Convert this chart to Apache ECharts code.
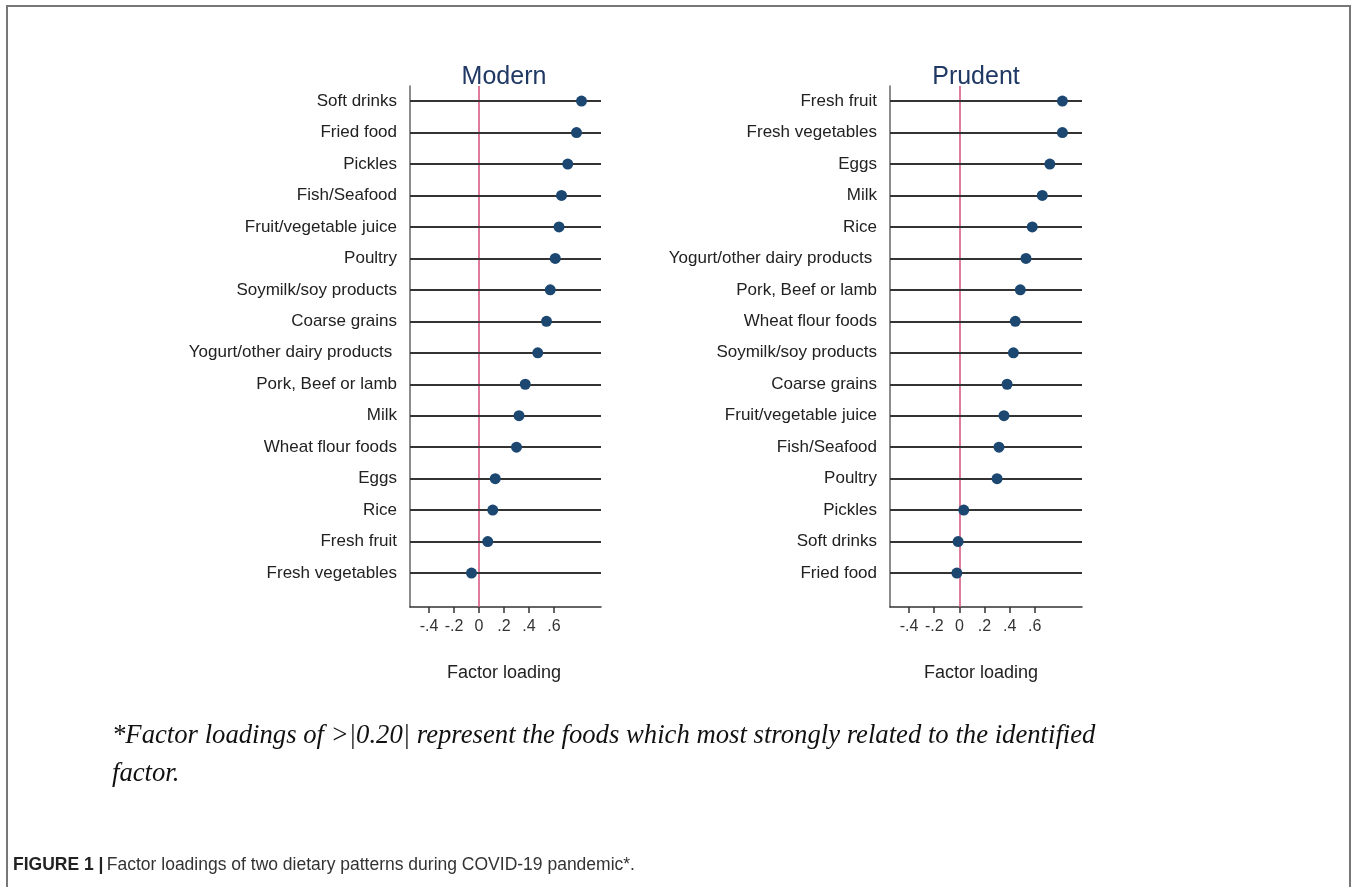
<!DOCTYPE html>
<html>
<head>
<meta charset="utf-8">
<script src="https://cdn.jsdelivr.net/npm/echarts@6.0.0/dist/echarts.min.js"></script>
<style>
html,body{margin:0;padding:0;background:#fff;}
#main{width:1357px;height:887px;}
</style>
</head>
<body>
<div id="main"></div>
<script>
const modernCats = ['Soft drinks','Fried food','Pickles','Fish/Seafood','Fruit/vegetable juice','Poultry','Soymilk/soy products','Coarse grains','Yogurt/other dairy products ','Pork, Beef or lamb','Milk','Wheat flour foods','Eggs','Rice','Fresh fruit','Fresh vegetables'];
const modernVals = [0.82,0.78,0.71,0.66,0.64,0.61,0.57,0.54,0.47,0.37,0.32,0.30,0.13,0.11,0.07,-0.06];
const prudentCats = ['Fresh fruit','Fresh vegetables','Eggs','Milk','Rice','Yogurt/other dairy products ','Pork, Beef or lamb','Wheat flour foods','Soymilk/soy products','Coarse grains','Fruit/vegetable juice','Fish/Seafood','Poultry','Pickles','Soft drinks','Fried food'];
const prudentVals = [0.82,0.82,0.72,0.66,0.58,0.53,0.485,0.445,0.43,0.38,0.355,0.315,0.30,0.035,-0.01,-0.02];
const xTicks = [-0.4,-0.2,0,0.2,0.4,0.6];
const xTickLabels = ['-.4','-.2','0','.2','.4','.6'];
const titles = ['Modern','Prudent'];
const xTitle = 'Factor loading';
const note1 = '*Factor loadings of >|0.20| represent the foods which most strongly related to the identified';
const note2 = 'factor.';

const FONT = 'Liberation Sans, Arial, sans-serif';
const chart = echarts.init(document.getElementById('main'));
const N = modernCats.length;
const rows = Array.from({length:N},(_,i)=>N-i);

function yAxis(idx, cats){
  return {
    type:'value', gridIndex:idx, min:-0.08, max:16.48,
    axisLine:{show:true,onZero:false,lineStyle:{color:'#666',width:1.5}},
    axisTick:{show:false},
    splitLine:{show:false},
    axisLabel:{customValues:rows, formatter:v=>cats[N-Math.round(v)], fontSize:17, color:'#222', fontFamily:FONT, margin:13}
  };
}
function xAxis(idx){
  return {
    type:'value', gridIndex:idx, min:-0.552, max:0.976,
    axisLine:{show:true,onZero:false,lineStyle:{color:'#333',width:1.5}},
    axisTick:{show:true,customValues:xTicks,length:6,lineStyle:{color:'#333',width:1.5}},
    splitLine:{show:false},
    axisLabel:{customValues:xTicks, formatter:v=>xTickLabels[xTicks.findIndex(t=>Math.abs(t-v)<1e-6)], fontSize:16, color:'#333', fontFamily:FONT, margin:12}
  };
}
function seriesFor(idx, cats, vals){
  return [
    {type:'scatter', xAxisIndex:idx, yAxisIndex:idx, data:[], silent:true, z:1,
     markLine:{silent:true, symbol:'none', animation:false, label:{show:false},
       lineStyle:{color:'#d44f7a',width:1.5,type:'solid',opacity:1}, data:[{xAxis:0}]}},
    {type:'scatter', xAxisIndex:idx, yAxisIndex:idx, data:[], silent:true, z:2,
     markLine:{silent:true, symbol:'none', animation:false, label:{show:false},
       lineStyle:{color:'#333',width:2.2,type:'solid',opacity:1}, data:rows.map(r=>({yAxis:r}))}},
    {type:'scatter', xAxisIndex:idx, yAxisIndex:idx, z:5, symbolSize:11,
     itemStyle:{color:'#1b4770',opacity:1}, animation:false,
     data:vals.map((v,i)=>[v, N-i])}
  ];
}

const option = {
  animation:false,
  grid:[
    {left:410, top:86, width:191, height:521},
    {left:890, top:86, width:192, height:521}
  ],
  xAxis:[xAxis(0), xAxis(1)],
  yAxis:[yAxis(0, modernCats), yAxis(1, prudentCats)],
  series:[...seriesFor(0, modernCats, modernVals), ...seriesFor(1, prudentCats, prudentVals)],
  graphic:[
    {type:'polyline', shape:{points:[[7,887],[7,6],[1350,6],[1350,887]]}, style:{stroke:'#777',lineWidth:2,fill:null}},
    {type:'text', x:504, y:77, style:{text:titles[0], font:'25px '+FONT, fill:'#1f3864', align:'center', verticalAlign:'middle'}},
    {type:'text', x:976, y:77, style:{text:titles[1], font:'25px '+FONT, fill:'#1f3864', align:'center', verticalAlign:'middle'}},
    {type:'text', x:504, y:673, style:{text:xTitle, font:'18px '+FONT, fill:'#222', align:'center', verticalAlign:'middle'}},
    {type:'text', x:981, y:673, style:{text:xTitle, font:'18px '+FONT, fill:'#222', align:'center', verticalAlign:'middle'}},
    {type:'text', x:112, y:736, style:{text:note1, font:'italic 26.7px Liberation Serif, Times New Roman, serif', fill:'#111', verticalAlign:'middle'}},
    {type:'text', x:112, y:774, style:{text:note2, font:'italic 26.7px Liberation Serif, Times New Roman, serif', fill:'#111', verticalAlign:'middle'}},
    {type:'text', x:13, y:865, style:{rich:{b:{font:'bold 17.5px '+FONT, fill:'#222'}, n:{font:'17.5px '+FONT, fill:'#333'}}, text:'{b|FIGURE 1 |} {n|Factor loadings of two dietary patterns during COVID-19 pandemic*.}', verticalAlign:'middle'}}
  ]
};
chart.setOption(option);
</script>
</body>
</html>
